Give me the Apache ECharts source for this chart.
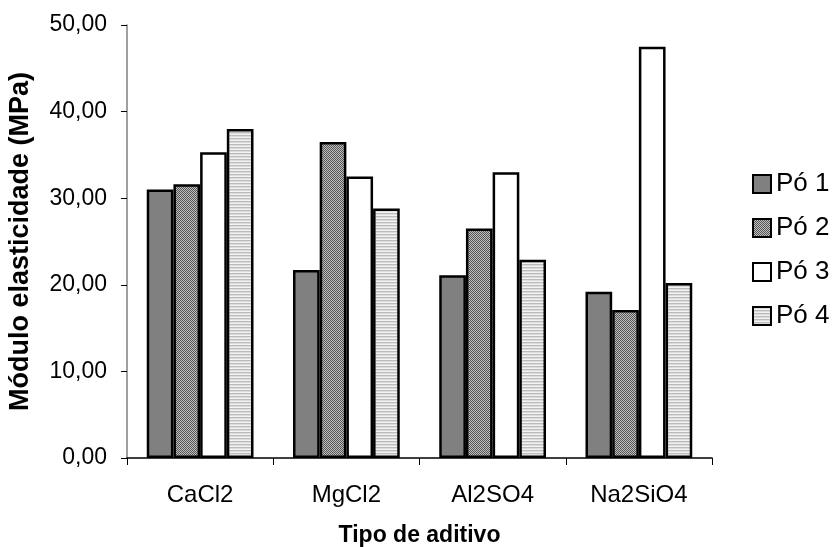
<!DOCTYPE html>
<html>
<head>
<meta charset="utf-8">
<script src="https://cdn.jsdelivr.net/npm/echarts@6/dist/echarts.min.js"></script>
<style>
  html, body { margin: 0; padding: 0; background: #fff; }
  #chart { width: 837px; height: 547px; }
</style>
</head>
<body>
<div id="chart"></div>
<script>
// Additive types on the x axis
const categories = ['CaCl2', 'MgCl2', 'Al2SO4', 'Na2SiO4'];
// Elastic modulus (MPa) for each powder
const po1 = [31.0, 21.7, 21.1, 19.2];
const po2 = [31.6, 36.5, 26.5, 17.1];
const po3 = [35.3, 32.5, 33.0, 47.5];
const po4 = [38.0, 28.8, 22.9, 20.2];
const seriesNames = ['Pó 1', 'Pó 2', 'Pó 3', 'Pó 4'];
const yTicks = [0, 10, 20, 30, 40, 50];

// Fill patterns drawn on small canvases
function checkerPattern() {
  const c = document.createElement('canvas');
  c.width = 2; c.height = 2;
  const g = c.getContext('2d');
  g.fillStyle = '#c0c0c0'; g.fillRect(0, 0, 2, 2);
  g.fillStyle = '#555555'; g.fillRect(0, 0, 1, 1); g.fillRect(1, 1, 1, 1);
  return { image: c, repeat: 'repeat' };
}
function stripePattern() {
  const c = document.createElement('canvas');
  c.width = 4; c.height = 3;
  const g = c.getContext('2d');
  g.fillStyle = '#f2f2f2'; g.fillRect(0, 0, 4, 3);
  g.fillStyle = '#bcbcbc'; g.fillRect(0, 0, 4, 1);
  g.fillStyle = '#dcdcdc'; g.fillRect(0, 1, 4, 1);
  return { image: c, repeat: 'repeat' };
}

const fills = ['#808080', checkerPattern(), '#ffffff', stripePattern()];
const values = [po1, po2, po3, po4];

const chart = echarts.init(document.getElementById('chart'), null, { renderer: 'canvas' });
const fontFamily = 'Liberation Sans, Arial, sans-serif';

chart.setOption({
  animation: false,
  backgroundColor: '#ffffff',
  textStyle: { fontFamily: fontFamily, color: '#000' },
  grid: {
    left: 127, right: 125, top: 25, bottom: 89,
    containLabel: false,
    outerBoundsMode: 'none'
  },
  legend: {
    data: seriesNames,
    orient: 'vertical',
    left: 747,
    top: 166,
    padding: 5,
    itemWidth: 18,
    itemHeight: 18,
    itemGap: 18,
    icon: 'rect',
    textStyle: { fontSize: 26, color: '#000', fontFamily: fontFamily }
  },
  xAxis: {
    type: 'category',
    data: categories,
    name: 'Tipo de aditivo',
    nameLocation: 'middle',
    nameGap: 66,
    nameMoveOverlap: false,
    nameTextStyle: { fontSize: 23, fontWeight: 'bold', color: '#000', fontFamily: fontFamily },
    axisLine: { lineStyle: { color: '#000', width: 1.5 } },
    axisTick: { show: true, length: 7, lineStyle: { color: '#000' }, alignWithLabel: false },
    axisLabel: { fontSize: 24, color: '#000', margin: 25 },
    splitLine: { show: false }
  },
  yAxis: {
    type: 'value',
    min: yTicks[0],
    max: yTicks[yTicks.length - 1],
    interval: yTicks[1] - yTicks[0],
    name: 'Módulo elasticidade (MPa)',
    nameLocation: 'middle',
    nameGap: 93,
    nameMoveOverlap: false,
    nameTextStyle: { fontSize: 27, fontWeight: 'bold', color: '#000', fontFamily: fontFamily },
    axisLine: { show: true, lineStyle: { color: '#808080', width: 1.5 } },
    axisTick: { show: true, length: 6, lineStyle: { color: '#000' } },
    axisLabel: {
      fontSize: 23, color: '#000', margin: 20,
      formatter: v => v.toFixed(2).replace('.', ',')
    },
    splitLine: { show: false }
  },
  series: seriesNames.map((name, i) => ({
    name: name,
    type: 'bar',
    data: values[i],
    barGap: '0%',
    barCategoryGap: '27%',
    itemStyle: { color: fills[i], borderColor: '#000', borderWidth: 2.5 }
  }))
});
</script>
</body>
</html>
